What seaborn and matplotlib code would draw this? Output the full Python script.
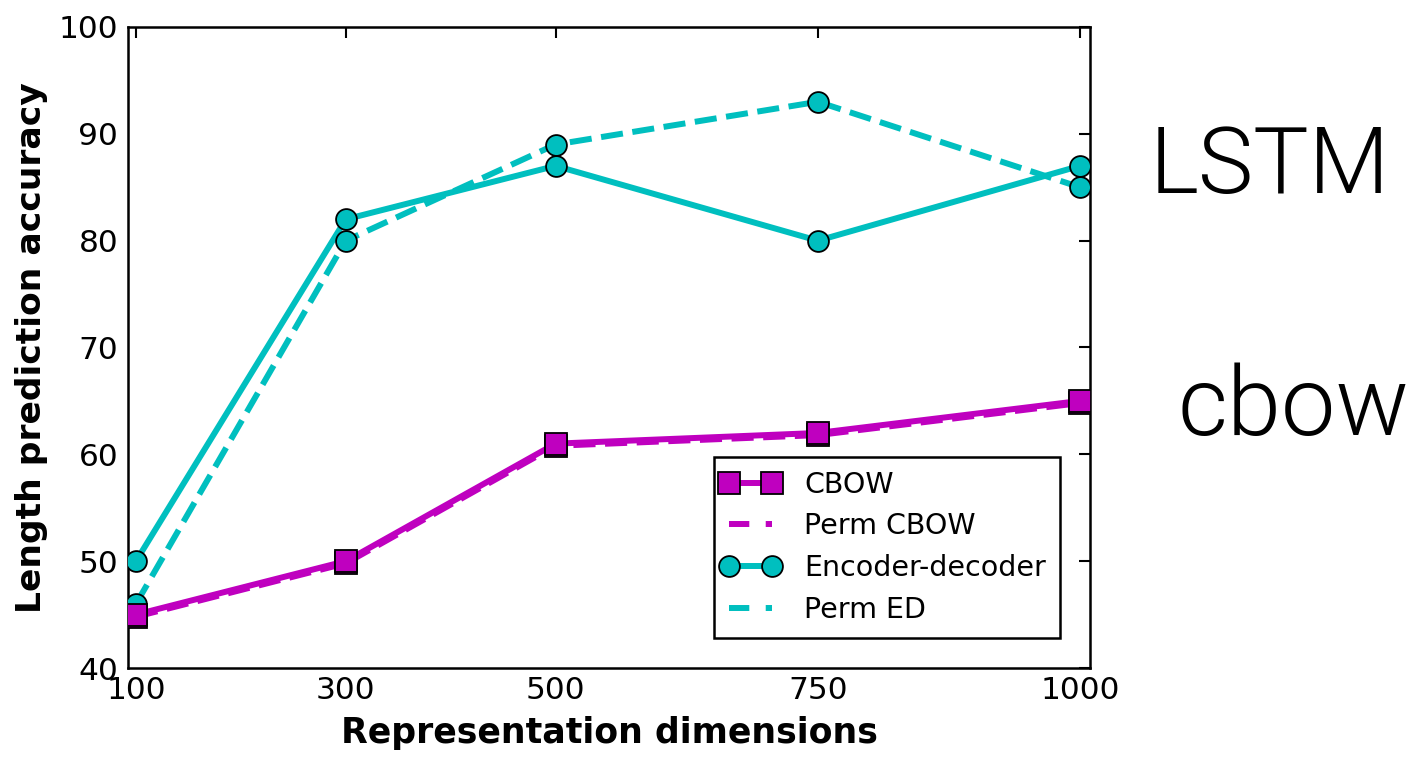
import numpy as np
import pandas as pd
import matplotlib
matplotlib.use("Agg")
import matplotlib.pyplot as plt
import seaborn as sns
from matplotlib.lines import Line2D
from matplotlib.legend_handler import HandlerLine2D

dims = [100, 300, 500, 750, 1000]
cbow = [45, 50, 61, 62, 65]
perm_cbow = [44.8, 49.8, 60.8, 61.8, 64.8]
enc_dec = [50, 82, 87, 80, 87]
perm_ed = [46, 80, 89, 93, 85]

MAG = (0.75, 0, 0.75)
CYN = (0, 0.75, 0.75)

sns.set_style("white")
plt.rcParams["font.family"] = ["DejaVu Sans"]
plt.rcParams["text.color"] = "black"
plt.rcParams["axes.labelcolor"] = "black"
plt.rcParams["xtick.color"] = "black"
plt.rcParams["ytick.color"] = "black"

fig = plt.figure(figsize=(14.16, 7.57), dpi=100)
ax = fig.add_axes([128 / 1416, 89 / 757, 962 / 1416, 641 / 757])

df = pd.DataFrame({"dim": dims, "cbow": cbow, "perm_cbow": perm_cbow,
                   "enc_dec": enc_dec, "perm_ed": perm_ed})

lw = 4.3
sns.lineplot(data=df, x="dim", y="perm_ed", ax=ax, color=CYN, lw=lw,
             linestyle="--", zorder=2)
sns.lineplot(data=df, x="dim", y="enc_dec", ax=ax, color=CYN, lw=lw, zorder=2)
sns.lineplot(data=df, x="dim", y="perm_cbow", ax=ax, color=MAG, lw=lw,
             linestyle="--", zorder=3)
sns.lineplot(data=df, x="dim", y="cbow", ax=ax, color=MAG, lw=lw, zorder=3)

for col, mk, c, ms, z in [("perm_ed", "o", CYN, 15, 4), ("enc_dec", "o", CYN, 15, 4),
                          ("perm_cbow", "s", MAG, 16, 5), ("cbow", "s", MAG, 16, 5)]:
    ax.plot(df["dim"], df[col], linestyle="none", marker=mk, ms=ms,
            mfc=c, mec="black", mew=1.3, zorder=z)

legend_dash = (0, (3.4, 2.75, 1.2, 20))
handles = [
    Line2D([], [], color=MAG, lw=lw, marker="s", ms=16, mfc=MAG, mec="black", mew=1.3),
    Line2D([], [], color=MAG, lw=lw, linestyle=legend_dash),
    Line2D([], [], color=CYN, lw=lw, marker="o", ms=15, mfc=CYN, mec="black", mew=1.3),
    Line2D([], [], color=CYN, lw=lw, linestyle=legend_dash),
]
labels = ["CBOW", "Perm CBOW", "Encoder-decoder", "Perm ED"]
leg = ax.legend(handles, labels, loc="lower right",
                bbox_to_anchor=((1060 - 128) / 962, 30 / 641),
                borderaxespad=0, numpoints=2, fontsize=20.5, frameon=True,
                fancybox=False, handlelength=1.52, labelspacing=0.48,
                borderpad=0.5, handletextpad=1.12,
                handler_map={Line2D: HandlerLine2D(marker_pad=0)})
leg.get_frame().set_edgecolor("black")
leg.get_frame().set_linewidth(1.8)
leg.get_frame().set_alpha(1)

ax.set_xlim(92.4, 1009.5)
ax.set_ylim(40, 100)
ax.set_xticks(dims)
ax.set_yticks(np.arange(40, 101, 10))
ax.tick_params(axis="both", direction="in", length=8, width=1.5,
               labelsize=22.5, top=True, right=True)
ax.tick_params(axis="y", pad=7)
ax.tick_params(axis="x", pad=6)
for s in ax.spines.values():
    s.set_color("black")
    s.set_linewidth(1.8)

ax.set_xlabel("Representation dimensions", fontsize=25, fontweight="bold", labelpad=8)
ax.set_ylabel("Length prediction accuracy", fontsize=24.8, fontweight="bold", labelpad=8)

fig.text(1270 / 1416, 1 - 193 / 757, "LSTM", fontsize=67, family=["Roboto", "DejaVu Sans"],
         fontweight=300, ha="center", va="baseline")
fig.text(1293 / 1416, 1 - 435 / 757, "cbow", fontsize=70, family=["Roboto", "DejaVu Sans"],
         fontweight=300, ha="center", va="baseline")

fig.savefig("out.png", dpi=100)
